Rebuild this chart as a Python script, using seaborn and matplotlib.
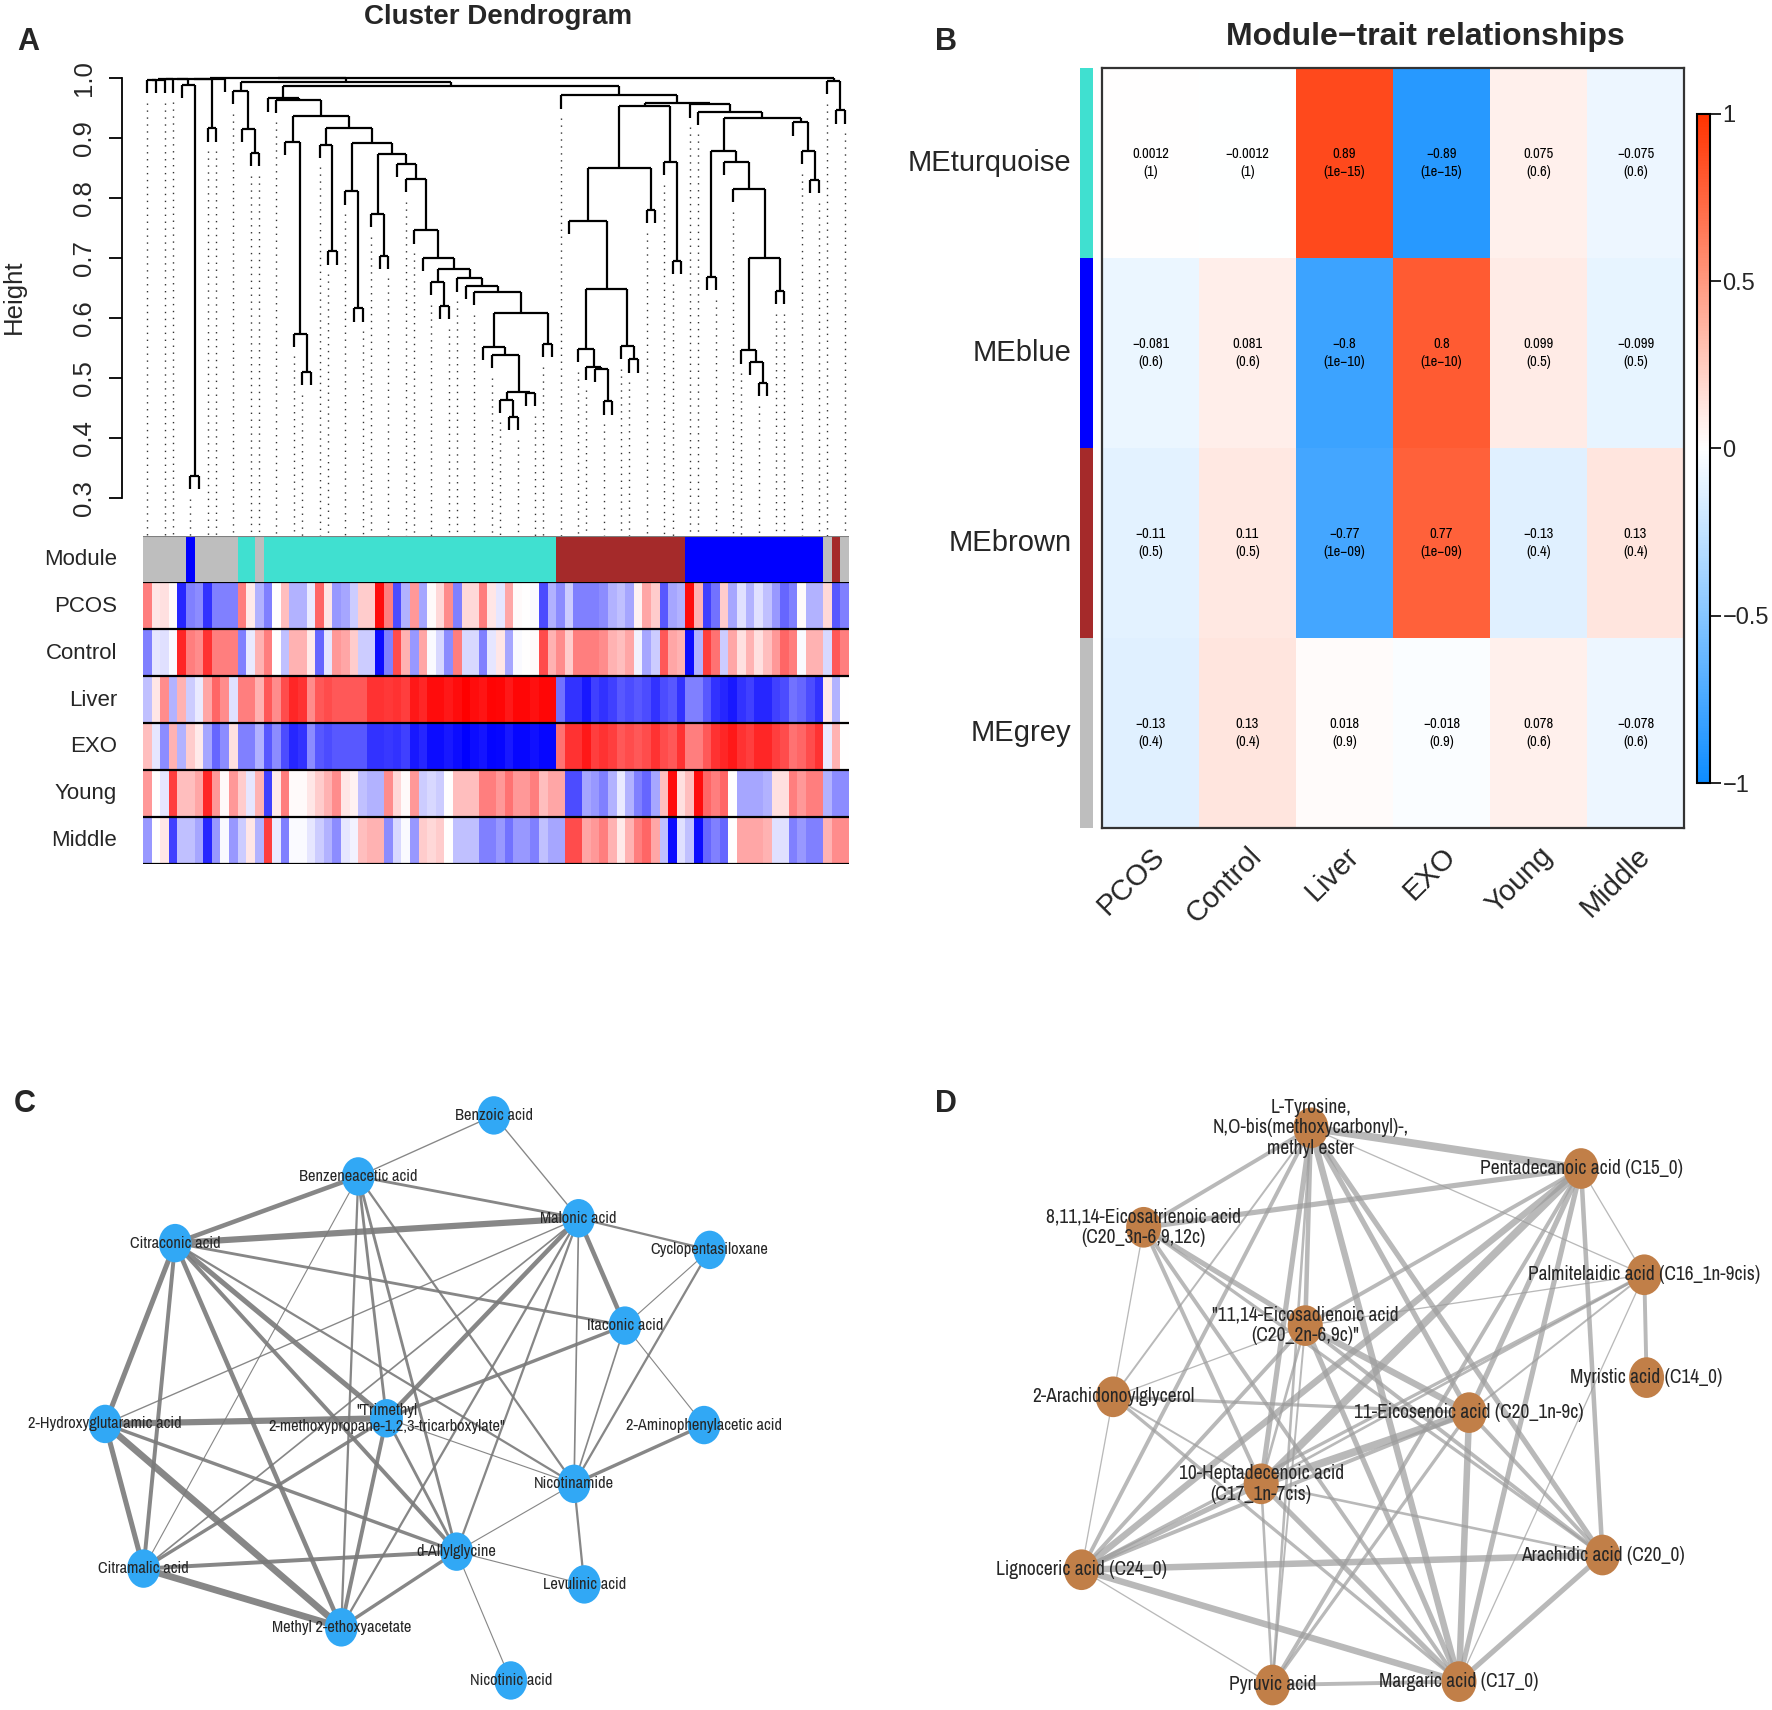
import numpy as np
import pandas as pd
import matplotlib
matplotlib.use('Agg')
import matplotlib.pyplot as plt
import seaborn as sb
from matplotlib import font_manager
from matplotlib.collections import LineCollection
from matplotlib.colors import LinearSegmentedColormap, ListedColormap
from matplotlib.patches import Ellipse

# ---------------- panel A data ----------------
# dendrogram merges as (height, left, right); None is a leaf (leaves run left to right)
o = None
turq_tail = (0.609, (0.552, o, (0.538, o, (0.477, (0.464, o, (0.435, o, o)), (0.475, o, o)))), (0.557, o, o))
turq_chain = (0.857, o, (0.832, o, (0.746, o, (0.70, o, (0.681, (0.66, o, (0.62, o, o)),
                                                          (0.666, o, (0.653, o, (0.643, o, turq_tail))))))))
turquoise_branch = (0.966, o, (0.964, o, (0.936,
                                          (0.894, o, (0.574, o, (0.51, o, o))),
                                          (0.917, (0.889, o, (0.711, o, o)),
                                           (0.892, (0.811, o, (0.616, o, o)),
                                            (0.874, (0.773, o, (0.704, o, o)), turq_chain))))))
brown_branch = (0.953, (0.85, (0.762, o, (0.648, (0.548, o, (0.518, o, (0.515, o, (0.461, o, o)))),
                                          (0.553, o, (0.531, o, o)))),
                        (0.78, o, o)),
                (0.86, o, (0.695, o, o)))
blue_branch = (0.956, o, (0.944, o, (0.933, (0.878, (0.668, o, o),
                                             (0.86, o, (0.815, o, (0.70, (0.546, o, (0.527, o, (0.492, o, o))),
                                                                   (0.645, o, o))))),
                                     (0.926, o, (0.878, o, (0.83, o, o))))))
brown_blue = (0.971, o, (0.958, brown_branch, blue_branch))
left_grey = (0.999, (0.9985, (0.998, (0.9975, (0.997, (0.9965, o, o), o), o), (0.988, o, (0.337, o, o))),
                     (0.916, o, o)), o)
dendro_tree = (1.0, (0.9993, left_grey, (0.993, (0.978, o, (0.915, o, (0.875, o, o))),
                                        (0.986, turquoise_branch, brown_blue))),
               (0.995, o, (0.946, o, o)))

module_colors = (['grey'] * 5 + ['blue'] + ['grey'] * 5 + ['turquoise'] * 2 + ['grey'] + ['turquoise'] * 34
                 + ['brown'] * 15 + ['blue'] * 16 + ['grey', 'brown', 'grey'])

trait_names = ['PCOS', 'Control', 'Liver', 'EXO', 'Young', 'Middle']
pcos = [0.5, 0.1, 0.12, 0.02, -0.85, -0.5, -0.45, -0.8, -0.5, -0.5,
        -0.5, 0.5, 0.08, -0.3, -0.5, 0.0, 0.25, -0.3, -0.3, -0.08,
        0.6, 0.1, -0.4, -0.35, -0.2, 0.2, 0.2, 0.95, 0.5, -0.7,
        -0.3, 0.4, -0.35, 0.02, 0.15, 0.45, -0.5, 0.15, 0.15, 0.5,
        0.1, -0.1, 0.35, 0.02, 0.0, -0.02, -0.7, -0.3, -0.45, -0.2,
        -0.5, -0.5, -0.5, -0.45, -0.3, -0.25, -0.35, 0.05, 0.35, 0.2,
        -0.65, -0.35, -0.3, 0.95, 0.3, -0.75, -0.55, 0.2, -0.35, -0.12,
        -0.3, -0.12, -0.25, -0.4, -0.6, -0.5, 0.02, -0.3, -0.3, 0.15,
        -0.65, -0.5]
control = [-0.5, -0.1, -0.12, -0.02, 0.85, 0.5, 0.45, 0.8, 0.5, 0.5,
           0.5, -0.5, -0.08, 0.3, 0.5, 0.0, -0.25, 0.3, 0.3, 0.08,
           -0.6, -0.1, 0.4, 0.35, 0.2, -0.2, -0.2, -0.95, -0.5, 0.7,
           0.3, -0.4, 0.35, -0.02, -0.15, -0.45, 0.5, -0.15, -0.15, -0.5,
           -0.1, 0.1, -0.35, -0.02, 0.0, 0.02, 0.7, 0.3, 0.45, 0.2,
           0.5, 0.5, 0.5, 0.45, 0.3, 0.25, 0.35, -0.05, -0.35, -0.2,
           0.65, 0.35, 0.3, -0.95, -0.3, 0.75, 0.55, -0.2, 0.35, 0.12,
           0.3, 0.12, 0.25, 0.4, 0.6, 0.5, -0.02, 0.3, 0.3, -0.15,
           0.65, 0.5]
liver = [-0.25, 0.1, 0.45, -0.3, 0.3, -0.2, -0.08, 0.35, 0.6, 0.45,
         -0.12, 0.5, 0.5, 0.3, 0.65, 0.45, 0.7, 0.85, 0.8, 0.45,
         0.65, 0.7, 0.65, 0.65, 0.65, 0.65, 0.8, 0.8, 0.78, 0.8,
         0.75, 0.9, 0.85, 0.95, 0.95, 0.9, 0.95, 1.0, 0.95, 0.92,
         0.98, 0.97, 0.9, 0.97, 0.97, 0.93, 0.97, 0.97,
         -0.55, -0.8, -0.8, -0.9, -0.75, -0.8, -0.75, -0.65, -0.7, -0.65,
         -0.7, -0.8, -0.7, -0.65, -0.8, -0.5, -0.5, -0.65, -0.8, -0.85,
         -0.9, -0.8, -0.75, -0.85, -0.85, -0.75, -0.7, -0.55, -0.6, -0.7,
         -0.8, 0.08, -0.3, 0.0]
exo = [0.25, -0.1, -0.45, 0.3, -0.3, 0.2, 0.08, -0.35, -0.6, -0.45,
       0.12, -0.5, -0.5, -0.3, -0.65, -0.45, -0.7, -0.85, -0.8, -0.45,
       -0.65, -0.7, -0.65, -0.65, -0.65, -0.65, -0.8, -0.8, -0.78, -0.8,
       -0.75, -0.9, -0.85, -0.95, -0.95, -0.9, -0.95, -1.0, -0.95, -0.92,
       -0.98, -0.97, -0.9, -0.97, -0.97, -0.93, -0.97, -0.97,
       0.55, 0.8, 0.8, 0.9, 0.75, 0.8, 0.75, 0.65, 0.7, 0.65,
       0.7, 0.8, 0.7, 0.65, 0.8, 0.5, 0.5, 0.65, 0.8, 0.85,
       0.9, 0.8, 0.75, 0.85, 0.85, 0.75, 0.7, 0.55, 0.6, 0.7,
       0.8, -0.08, 0.3, 0.0]
young = [0.4, 0.0, -0.1, 0.75, 0.25, 0.25, 0.35, 0.85, 0.4, 0.02,
         0.4, 0.2, -0.1, 0.3, -0.75, 0.08, 0.5, 0.02, 0.02, 0.1,
         0.2, 0.3, 0.45, 0.1, 0.05, -0.25, -0.3, -0.3, 0.45, 0.15,
         0.02, 0.4, -0.2, -0.15, -0.2, 0.0, 0.25, 0.25, 0.25, 0.5,
         0.5, 0.4, 0.55, 0.4, 0.4, 0.5, 0.25, 0.35,
         0.35, -0.7, -0.7, -0.35, -0.4, -0.5, -0.3, -0.08, -0.3, -0.5,
         -0.6, -0.35, 0.25, 0.95, 0.12, 0.25, 0.95, 0.6, 0.5, 0.6,
         0.0, -0.35, -0.35, -0.35, -0.3, 0.12, 0.12, 0.5, 0.4, 0.5,
         0.5, -0.3, -0.45, -0.45]
middle = [-0.4, 0.0, 0.1, -0.75, -0.25, -0.25, -0.35, -0.85, -0.4, -0.02,
          -0.4, -0.2, 0.1, -0.3, 0.75, -0.08, -0.5, -0.02, -0.02, -0.1,
          -0.2, -0.3, -0.45, -0.1, -0.05, 0.25, 0.3, 0.3, -0.45, -0.15,
          -0.02, -0.4, 0.2, 0.15, 0.2, 0.0, -0.25, -0.25, -0.25, -0.5,
          -0.5, -0.4, -0.55, -0.4, -0.4, -0.5, -0.25, -0.35,
          -0.35, 0.7, 0.7, 0.35, 0.4, 0.5, 0.3, 0.08, 0.3, 0.5,
          0.6, 0.35, -0.25, -0.95, -0.12, -0.25, -0.95, -0.6, -0.5, -0.6,
          0.0, 0.35, 0.35, 0.35, 0.3, -0.12, -0.12, -0.5, -0.4, -0.5,
          -0.5, 0.3, 0.45, 0.45]

# ---------------- panel B data ----------------
me_names = ['MEturquoise', 'MEblue', 'MEbrown', 'MEgrey']
me_colors = ['turquoise', 'blue', 'brown', 'grey']
me_cor = [[0.0012, -0.0012, 0.89, -0.89, 0.075, -0.075],
          [-0.081, 0.081, -0.8, 0.8, 0.099, -0.099],
          [-0.11, 0.11, -0.77, 0.77, -0.13, 0.13],
          [-0.13, 0.13, 0.018, -0.018, 0.078, -0.078]]
me_p = [['1', '1', '1e-15', '1e-15', '0.6', '0.6'],
        ['0.6', '0.6', '1e-10', '1e-10', '0.5', '0.5'],
        ['0.5', '0.5', '1e-09', '1e-09', '0.4', '0.4'],
        ['0.4', '0.4', '0.9', '0.9', '0.6', '0.6']]

# ---------------- panel C data (layout positions) ----------------
c_keys = ['benzoic', 'benzene', 'malonic', 'cyclo', 'citraconic', 'itaconic', 'hydroxy', 'trimethyl',
          'amino', 'nicotinamide', 'allyl', 'citramalic', 'levulinic', 'methyl', 'nicotinic']
c_labels = ['Benzoic acid', 'Benzeneacetic acid', 'Malonic acid', 'Cyclopentasiloxane', 'Citraconic acid',
            'Itaconic acid', '2-Hydroxyglutaramic acid', '"Trimethyl\n2-methoxypropane-1,2,3-tricarboxylate"',
            '2-Aminophenylacetic acid', 'Nicotinamide', 'd-Allylglycine', 'Citramalic acid', 'Levulinic acid',
            'Methyl 2-ethoxyacetate', 'Nicotinic acid']
c_x = [437, 317, 512, 628, 155, 553, 93, 342, 623, 508, 404, 127, 517, 302, 452]
c_y = [987, 1041, 1078, 1106, 1100, 1173, 1260, 1255, 1261, 1313, 1373, 1388, 1402, 1440, 1487]
c_edges = [('citraconic', 'malonic', 5.5), ('citraconic', 'benzene', 4), ('citraconic', 'hydroxy', 4.5),
           ('citraconic', 'citramalic', 3.5), ('citraconic', 'methyl', 4), ('citraconic', 'trimethyl', 4.5),
           ('citraconic', 'allyl', 3.5), ('citraconic', 'nicotinamide', 2), ('citraconic', 'itaconic', 2.5),
           ('hydroxy', 'trimethyl', 5.5), ('hydroxy', 'citramalic', 4.5), ('hydroxy', 'methyl', 6),
           ('hydroxy', 'allyl', 3), ('hydroxy', 'malonic', 1.2), ('citramalic', 'methyl', 6),
           ('citramalic', 'allyl', 3.5), ('citramalic', 'trimethyl', 3), ('citramalic', 'benzene', 1),
           ('citramalic', 'malonic', 1.5), ('methyl', 'trimethyl', 3.5), ('methyl', 'allyl', 3),
           ('methyl', 'malonic', 2), ('methyl', 'benzene', 2), ('benzene', 'malonic', 2.5),
           ('benzene', 'benzoic', 1.2), ('benzene', 'trimethyl', 2.5), ('benzene', 'allyl', 2.5),
           ('benzene', 'nicotinamide', 2), ('benzoic', 'malonic', 1.2), ('malonic', 'cyclo', 2),
           ('malonic', 'itaconic', 4), ('malonic', 'trimethyl', 4), ('malonic', 'nicotinamide', 1.5),
           ('malonic', 'allyl', 2), ('itaconic', 'trimethyl', 3), ('itaconic', 'cyclo', 1),
           ('itaconic', 'amino', 1), ('itaconic', 'nicotinamide', 1.5), ('cyclo', 'nicotinamide', 2),
           ('amino', 'nicotinamide', 3), ('nicotinamide', 'levulinic', 2), ('nicotinamide', 'allyl', 1),
           ('nicotinamide', 'trimethyl', 1), ('allyl', 'levulinic', 1), ('allyl', 'nicotinic', 1),
           ('allyl', 'trimethyl', 2.5)]

# ---------------- panel D data ----------------
d_keys = ['tyr', 'penta', 'triene', 'palm', 'diene', 'myr', 'arach', 'eicosenoic', 'hepta', 'ligno',
          'arachidic', 'pyruvic', 'margaric']
d_labels = ['L-Tyrosine,\nN,O-bis(methoxycarbonyl)-,\nmethyl ester', 'Pentadecanoic acid (C15_0)',
            '8,11,14-Eicosatrienoic acid\n(C20_3n-6,9,12c)', 'Palmitelaidic acid (C16_1n-9cis)',
            '"11,14-Eicosadienoic acid\n(C20_2n-6,9c)"', 'Myristic acid (C14_0)', '2-Arachidonoylglycerol',
            '11-Eicosenoic acid (C20_1n-9c)', '10-Heptadecenoic acid\n(C17_1n-7cis)', 'Lignoceric acid (C24_0)',
            'Arachidic acid (C20_0)', 'Pyruvic acid', 'Margaric acid (C17_0)']
d_x = [1160, 1399, 1012, 1455, 1155, 1457, 985, 1300, 1116, 957, 1418, 1126, 1291]
d_y = [998, 1034, 1086, 1128, 1173, 1219, 1236, 1250, 1313, 1389, 1376, 1491, 1488]
d_edges = [('tyr', 'penta', 6), ('tyr', 'triene', 3), ('tyr', 'diene', 3.5), ('tyr', 'eicosenoic', 4),
           ('tyr', 'hepta', 4), ('tyr', 'ligno', 3), ('tyr', 'margaric', 5), ('tyr', 'arachidic', 4),
           ('tyr', 'pyruvic', 2), ('tyr', 'palm', 1), ('tyr', 'arach', 1.5), ('penta', 'triene', 4),
           ('penta', 'palm', 1), ('penta', 'diene', 3), ('penta', 'eicosenoic', 4), ('penta', 'hepta', 6),
           ('penta', 'ligno', 5), ('penta', 'margaric', 4), ('penta', 'arachidic', 3.5), ('penta', 'pyruvic', 3),
           ('triene', 'diene', 4), ('triene', 'arach', 1), ('triene', 'hepta', 3), ('triene', 'margaric', 3),
           ('triene', 'arachidic', 2.5), ('palm', 'myr', 3), ('palm', 'diene', 1), ('palm', 'eicosenoic', 1.5),
           ('palm', 'hepta', 2), ('palm', 'margaric', 1), ('palm', 'ligno', 2.5), ('diene', 'eicosenoic', 5),
           ('diene', 'hepta', 2), ('diene', 'arach', 1), ('diene', 'margaric', 4), ('diene', 'arachidic', 3),
           ('diene', 'pyruvic', 1.5), ('diene', 'ligno', 3), ('arach', 'eicosenoic', 2.5), ('arach', 'ligno', 1),
           ('arach', 'hepta', 1.5), ('arach', 'margaric', 2.5), ('eicosenoic', 'hepta', 6),
           ('eicosenoic', 'ligno', 3), ('eicosenoic', 'arachidic', 3), ('eicosenoic', 'margaric', 5),
           ('eicosenoic', 'pyruvic', 2.5), ('hepta', 'ligno', 4), ('hepta', 'arachidic', 2),
           ('hepta', 'margaric', 4), ('hepta', 'pyruvic', 2), ('ligno', 'arachidic', 5), ('ligno', 'margaric', 5),
           ('ligno', 'pyruvic', 1), ('arachidic', 'margaric', 4), ('pyruvic', 'margaric', 3)]

# ---------------- figure setup ----------------
W, H = 1772, 1710
S = W / 1568  # network layout units -> pixels
sb.set_style('white')
plt.rcParams['font.family'] = ['Liberation Sans', 'DejaVu Sans']
plt.rcParams['axes.unicode_minus'] = True

# a narrow face for the network / cell labels if one is installed
narrow_faces = sorted({f.name for f in font_manager.fontManager.ttflist
                       if 'Narrow' in f.name or 'Condensed' in f.name})
if narrow_faces:
    NARROW, nscale = [narrow_faces[0], 'DejaVu Sans'], 1.0
else:
    NARROW, nscale = ['Liberation Sans', 'DejaVu Sans'], 0.9

color_hex = {'grey': '#BEBEBE', 'blue': '#0000FF', 'turquoise': '#40E0D0', 'brown': '#A52A2A'}


def rect(x0, y0, x1, y1):
    return [x0 / W, 1 - y1 / H, (x1 - x0) / W, (y1 - y0) / H]


fig = plt.figure(figsize=(W / 100, H / 100), dpi=100)

# ---------------- panel A: dendrogram ----------------
HANG = 0.022
segs, tips = [], []


def place(node):
    if node is None:
        tips.append(None)
        return len(tips) - 1, None
    h, a, b = node
    xa, ha = place(a)
    xb, hb = place(b)
    for x, hc in ((xa, ha), (xb, hb)):
        if hc is None:
            tips[x] = h - HANG
            segs.append([(x, h), (x, h - HANG)])
        else:
            segs.append([(x, h), (x, hc)])
    segs.append([(xa, h), (xb, h)])
    return (xa + xb) / 2, h


place(dendro_tree)
n_leaves = len(tips)
ybot, ytop = 0.2367, 1.0133

axd = fig.add_axes(rect(143, 70, 849, 536))
axd.patch.set_alpha(0)
axd.add_collection(LineCollection(segs, colors='black', linewidths=1.6))
for g in np.round(np.linspace(0, n_leaves - 1, 50)).astype(int):
    axd.plot([g, g], [tips[g] - 0.016, ybot], color='#333333', lw=1.0, ls=(0, (1, 4)))
axd.set_xlim(-0.5, n_leaves - 0.5)
axd.set_ylim(ybot, ytop)
for s in ['top', 'right', 'bottom']:
    axd.spines[s].set_visible(False)
axd.spines['left'].set_position(('outward', 15))
axd.spines['left'].set_bounds(0.3, 1.0)
axd.spines['left'].set_linewidth(1.3)
axd.spines['left'].set_color('black')
yt = [0.3, 0.4, 0.5, 0.6, 0.7, 0.8, 0.9, 1.0]
axd.set_xticks([])
axd.set_yticks(yt)
axd.set_yticklabels([f'{v:.1f}' for v in yt], rotation=90, va='center', fontsize=18.5)
axd.tick_params(axis='y', length=9.5, width=1.3, pad=9, direction='out', left=True, color='black')
fig.text(14 / W, 1 - 297 / H, 'Height', rotation=90, ha='center', va='center', fontsize=18.5)
fig.text(498 / W, 1 - 24 / H, 'Cluster Dendrogram', ha='center', va='baseline', fontsize=20, fontweight='bold')

# module colour bar
mod_order = ['grey', 'blue', 'turquoise', 'brown']
mod_codes = pd.DataFrame([[mod_order.index(c) for c in module_colors]])
axm = fig.add_axes(rect(143, 536, 849, 582))
sb.heatmap(mod_codes, ax=axm, cmap=ListedColormap([color_hex[c] for c in mod_order]), vmin=0, vmax=3,
           cbar=False, xticklabels=False, yticklabels=False)
axm.axhline(0, color='#7F7F7F', lw=1.5)

# trait rows
trait_df = pd.DataFrame([pcos, control, liver, exo, young, middle], index=trait_names)
bwr = LinearSegmentedColormap.from_list('bwr_r', ['#0000FF', '#FFFFFF', '#FF0000'])
axt = fig.add_axes(rect(143, 582, 849, 864))
sb.heatmap(trait_df, ax=axt, cmap=bwr, vmin=-1, vmax=1, cbar=False, xticklabels=False, yticklabels=False)
for k in range(len(trait_names) + 1):
    axt.axhline(k, color='black', lw=1.6)

row_h = (864 - 536) / 7
for i, lab in enumerate(['Module'] + trait_names):
    fig.text(117 / W, 1 - (536 + row_h * (i + 0.5)) / H, lab, ha='right', va='center', fontsize=16)

# ---------------- panel B: module-trait heatmap ----------------
cor_df = pd.DataFrame(me_cor, index=me_names, columns=trait_names)
annot = [[f'{v}\n({p})'.replace('-', '\u2212') for v, p in zip(rv, rp)] for rv, rp in zip(me_cor, me_p)]
cmapB = LinearSegmentedColormap.from_list('bwrB', [(0.05, 0.55, 1.0), (1, 1, 1), (1.0, 0.2, 0.0)])
axB = fig.add_axes(rect(1102, 68, 1684, 828))
cax = fig.add_axes(rect(1697, 114, 1710, 783))
sb.heatmap(cor_df, ax=axB, cmap=cmapB, vmin=-1, vmax=1, annot=np.array(annot), fmt='',
           annot_kws={'fontsize': 10.5 * nscale, 'family': NARROW, 'color': 'black', 'linespacing': 1.45},
           cbar_ax=cax, cbar_kws={'ticks': [-1, -0.5, 0, 0.5, 1]})
for s in axB.spines.values():
    s.set_visible(True)
    s.set_linewidth(1.6)
    s.set_color('#333333')
axB.set_yticklabels(me_names, rotation=0, fontsize=21)
axB.set_xticklabels(trait_names, rotation=45, ha='right', rotation_mode='anchor', fontsize=21)
axB.tick_params(axis='y', length=0, pad=22)
axB.tick_params(axis='x', length=0, pad=10)
cbar = axB.collections[0].colorbar
cbar.outline.set_edgecolor('black')
cbar.outline.set_linewidth(1.5)
cax.set_yticklabels(['\u22121', '\u22120.5', '0', '0.5', '1'])
cax.tick_params(labelsize=17, length=8, width=1.2, color='black', pad=1)

axS = fig.add_axes(rect(1080, 68, 1093, 828))
sb.heatmap(pd.DataFrame({'c': range(4)}), ax=axS, cmap=ListedColormap([color_hex[c] for c in me_colors]),
           vmin=0, vmax=3, cbar=False, xticklabels=False, yticklabels=False)
fig.text(1425 / W, 1 - 45 / H, 'Module\u2212trait relationships', ha='center', va='baseline',
         fontsize=23, fontweight='bold')

# ---------------- panels C and D: networks ----------------


def draw_net(ax, keys, labels, xs, ys, edges, node_color, edge_color, alpha, wscale, fsize, ew, eh):
    pos = dict(zip(keys, zip(xs, ys)))
    for a, b, wt in edges:
        ax.plot([pos[a][0], pos[b][0]], [pos[a][1], pos[b][1]], color=edge_color, alpha=alpha,
                lw=wt * S * 0.72 * wscale, solid_capstyle='butt', zorder=1)
    for k in keys:
        ax.add_patch(Ellipse(pos[k], ew, eh, facecolor=node_color, edgecolor='none', zorder=2))
    for k, lab in zip(keys, labels):
        ax.text(pos[k][0], pos[k][1], lab, ha='center', va='center', multialignment='center',
                fontsize=fsize * nscale, family=NARROW, linespacing=1.1, zorder=3)


axC = fig.add_axes(rect(0, 1050, 886, 1710))
axC.set_xlim(0, 886 / S)
axC.set_ylim(1710 / S, 1050 / S)
axC.axis('off')
draw_net(axC, c_keys, c_labels, c_x, c_y, c_edges, '#31A8F5', '#7A7A7A', 0.9, 1.0, 11.8, 29, 34)

axD = fig.add_axes(rect(886, 1050, 1772, 1710))
axD.set_xlim(886 / S, 1772 / S)
axD.set_ylim(1710 / S, 1050 / S)
axD.axis('off')
draw_net(axD, d_keys, d_labels, d_x, d_y, d_edges, '#C17F48', '#9E9E9E', 0.72, 1.15, 14, 31, 36)

# panel letters
for lab, x, y in [('A', 17, 50), ('B', 935, 50), ('C', 14, 1112), ('D', 935, 1112)]:
    fig.text(x / W, 1 - y / H, lab, ha='left', va='baseline', fontsize=22, fontweight='bold')

fig.savefig('out.png', dpi=100)
